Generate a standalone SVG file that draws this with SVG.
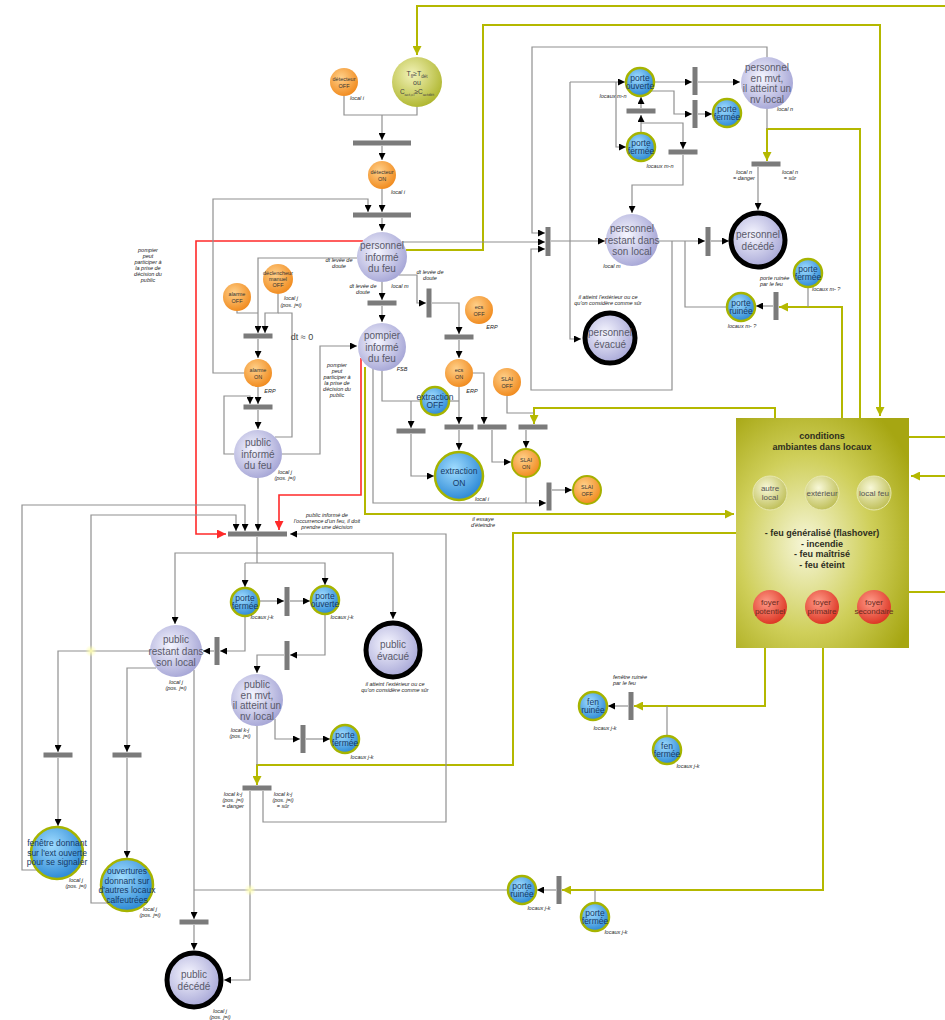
<svg xmlns="http://www.w3.org/2000/svg" width="945" height="1020" viewBox="0 0 945 1020">
<style>
text{font-family:"Liberation Sans",Arial,sans-serif}
.w{fill:none;stroke:#909090;stroke-width:1.2}
.wa{fill:none;stroke:#909090;stroke-width:1.2;marker-end:url(#ab)}
.y{fill:none;stroke:#b4b800;stroke-width:2}
.ya{fill:none;stroke:#b4b800;stroke-width:2;marker-end:url(#ay)}
.r{fill:none;stroke:#ff2a2a;stroke-width:1.6;marker-end:url(#ar)}
.bar{fill:#7b7b7b}
.or{fill:url(#gOr)}
.ory{fill:url(#gOr);stroke:#a6b000;stroke-width:2}
.lv{fill:url(#gLv)}
.dd{fill:url(#gLv);stroke:#000;stroke-width:5}
.bl{fill:url(#gBl);stroke:#a6b400;stroke-width:2.5}
.tl{font-size:10px;fill:#5a5a6a;text-anchor:middle}
.tb{font-size:8.5px;fill:#173a66;text-anchor:middle}
.to{font-size:5.5px;fill:#333;text-anchor:middle}
.it{font-size:5.5px;font-style:italic;fill:#222}
.c{text-anchor:middle}
.tc{font-size:9px;font-weight:bold;fill:#2e2e1e;text-anchor:middle}
.ts{font-size:8px;fill:#555;text-anchor:middle}
.tr{font-size:8px;fill:#6a2a20;text-anchor:middle}
</style>
<defs>
<marker id="ab" viewBox="0 0 10 10" refX="10" refY="5" markerWidth="7" markerHeight="7" markerUnits="userSpaceOnUse" orient="auto"><path d="M0,0 L10,5 L0,10 z" fill="#000"/></marker>
<marker id="ay" viewBox="0 0 10 10" refX="10" refY="5" markerWidth="9" markerHeight="9" markerUnits="userSpaceOnUse" orient="auto"><path d="M0,0 L10,5 L0,10 z" fill="#b4b800"/></marker>
<marker id="ar" viewBox="0 0 10 10" refX="10" refY="5" markerWidth="9" markerHeight="9" markerUnits="userSpaceOnUse" orient="auto"><path d="M0,0 L10,5 L0,10 z" fill="#ff2a2a"/></marker>
<radialGradient id="gOr" cx="0.4" cy="0.35" r="0.7"><stop offset="0" stop-color="#ffd08a"/><stop offset="1" stop-color="#f0881a"/></radialGradient>
<radialGradient id="gLv" cx="0.4" cy="0.4" r="0.7"><stop offset="0" stop-color="#f6f6ff"/><stop offset="1" stop-color="#9e9ed2"/></radialGradient>
<radialGradient id="gBl" cx="0.4" cy="0.35" r="0.75"><stop offset="0" stop-color="#a0dcff"/><stop offset="1" stop-color="#1d7ed0"/></radialGradient>
<radialGradient id="gGr" cx="0.4" cy="0.35" r="0.75"><stop offset="0" stop-color="#f2f2b8"/><stop offset="1" stop-color="#a8b020"/></radialGradient>
<radialGradient id="gBox" cx="0.4" cy="0.55" r="0.7"><stop offset="0" stop-color="#f6f6d8"/><stop offset="0.55" stop-color="#cfcf5a"/><stop offset="1" stop-color="#a6a612"/></radialGradient>
<radialGradient id="gSm" cx="0.4" cy="0.35" r="0.75"><stop offset="0" stop-color="#f8f8d8"/><stop offset="1" stop-color="#b8b848"/></radialGradient>
<radialGradient id="gRd" cx="0.4" cy="0.35" r="0.75"><stop offset="0" stop-color="#ff9a88"/><stop offset="1" stop-color="#d82a18"/></radialGradient>
<radialGradient id="gGlow" cx="0.5" cy="0.5" r="0.5"><stop offset="0" stop-color="#ffffb0"/><stop offset="1" stop-color="#ffffb0" stop-opacity="0"/></radialGradient>
</defs>
<rect width="945" height="1020" fill="#fff"/>

<g id="connectors">
<path class="ya" d="M945,6 H417 V55"/>
<path class="ya" d="M406,250 H483 V25 H880 V416"/>
<path class="ya" d="M860,418 V129 H767 V161"/>
<path class="ya" d="M842,418 V307 H779"/>
<path class="ya" d="M775,418 V408 H534 V424"/>
<path class="ya" d="M365,367 V514 H734"/>
<path class="ya" d="M736,533 H513 V765 H257 V785"/>
<path class="y" d="M909,437 H945"/>
<path class="ya" d="M945,476 H911"/>
<path class="y" d="M909,592 H945"/>
<path class="ya" d="M765,648 V706 H634"/>
<path class="ya" d="M823,648 V890 H562"/>
<path class="r" d="M363,241 H196 V534 H226"/>
<path class="r" d="M361,358 V495 H279 V530"/>
<path class="w" d="M344,96 V115 H417 V107"/>
<path class="wa" d="M382,115 V140"/>
<path class="wa" d="M382,146 V160"/>
<path class="wa" d="M382,189 V212"/>
<path class="wa" d="M244,373 H213 V199 H368 V212"/>
<path class="wa" d="M382,218 V231"/>
<path class="wa" d="M382,282 V300"/>
<path class="wa" d="M382,306 V322"/>
<path class="wa" d="M399,275 H417 V303 H426"/>
<path class="wa" d="M432,303 H459 V334"/>
<path class="wa" d="M459,340 V358"/>
<path class="wa" d="M459,387 V424"/>
<path class="wa" d="M459,430 V450"/>
<path class="w" d="M382,371 V401 H421"/>
<path class="w" d="M449,401 H459"/>
<path class="wa" d="M411,401 V428"/>
<path class="wa" d="M411,434 V476 H434"/>
<path class="wa" d="M473,373 H484 V424"/>
<path class="wa" d="M492,430 V462 H511"/>
<path class="w" d="M507,396 V413 H534"/>
<path class="wa" d="M526,430 V448"/>
<path class="w" d="M526,477 V503"/>
<path class="wa" d="M373,369 V503 H546"/>
<path class="wa" d="M552,490 H572"/>
<path class="wa" d="M357,258 H258 V333"/>
<path class="w" d="M237,311 V313 H258"/>
<path class="wa" d="M278,294 V313 H265 V333"/>
<path class="w" d="M278,313 H292 V437 H275"/>
<path class="wa" d="M258,339 V358"/>
<path class="wa" d="M258,387 V404"/>
<path class="wa" d="M234,454 H224 V396 H250 V404"/>
<path class="wa" d="M258,410 V429"/>
<path class="wa" d="M282,454 H320 V346 H357"/>
<path class="wa" d="M258,478 V531"/>
<path class="wa" d="M108,903 H91 V515 H236 V531"/>
<path class="wa" d="M37,870 H22 V505 H245 V531"/>
<path class="wa" d="M263,791 V822 H446 V534 H290"/>
<path class="w" d="M257,537 V563"/>
<path class="wa" d="M257,553 H393 V619"/>
<path class="wa" d="M257,553 H175 V624"/>
<path class="wa" d="M245,563 H325 V585"/>
<path class="wa" d="M245,563 V587"/>
<path class="wa" d="M259,601 H284"/>
<path class="wa" d="M290,601 H310"/>
<path class="wa" d="M325,614 V655 H290"/>
<path class="wa" d="M284,655 H257 V673"/>
<path class="wa" d="M245,616 V651 H220"/>
<path class="wa" d="M214,651 H203"/>
<path class="wa" d="M150,651 H58 V752"/>
<path class="wa" d="M58,758 V826"/>
<path class="wa" d="M156,668 H127 V752"/>
<path class="wa" d="M127,758 V858"/>
<path class="wa" d="M194,670 V919"/>
<path class="w" d="M508,890 H194"/>
<path class="wa" d="M194,925 V950"/>
<path class="wa" d="M250,791 V980 H224"/>
<path class="wa" d="M275,719 V739 H300"/>
<path class="wa" d="M306,739 H330"/>
<path class="w" d="M257,726 V765"/>
<path class="wa" d="M628,706 H608"/>
<path class="w" d="M667,736 V706"/>
<path class="wa" d="M556,890 H537"/>
<path class="w" d="M595,903 V890"/>
<path class="wa" d="M654,82 H692"/>
<path class="wa" d="M698,82 H740"/>
<path class="wa" d="M651,91 H674 V114 H692"/>
<path class="wa" d="M698,114 H712"/>
<path class="wa" d="M570,82 H625"/>
<path class="wa" d="M616,82 V147 H626"/>
<path class="wa" d="M570,82 V339 H581"/>
<path class="wa" d="M641,108 V97"/>
<path class="wa" d="M641,133 V115"/>
<path class="wa" d="M641,123 H683 V149"/>
<path class="wa" d="M683,155 V185 H632 V213"/>
<path class="wa" d="M767,57 V47 H532 V233 H545"/>
<path class="wa" d="M402,242 H545"/>
<path class="wa" d="M672,241 V390 H531 V249 H545"/>
<path class="wa" d="M551,241 H605"/>
<path class="wa" d="M658,241 H705"/>
<path class="wa" d="M711,241 H729"/>
<path class="w" d="M685,241 V307 H727"/>
<path class="w" d="M767,109 V129"/>
<path class="wa" d="M758,167 V210"/>
<path class="wa" d="M773,306 H756"/>
<path class="w" d="M808,287 V307"/>
<circle cx="91" cy="651" r="6" fill="url(#gGlow)"/>
<circle cx="250" cy="890" r="6" fill="url(#gGlow)"/>
</g>

<g id="transitions">
<rect class="bar" x="353" y="140.5" width="58" height="5"/>
<rect class="bar" x="353" y="212.5" width="58" height="5"/>
<rect class="bar" x="243.5" y="333.5" width="29" height="5"/>
<rect class="bar" x="243.5" y="404.5" width="29" height="5"/>
<rect class="bar" x="367.5" y="300.5" width="29" height="5"/>
<rect class="bar" x="444.5" y="334.5" width="29" height="5"/>
<rect class="bar" x="396.5" y="428.5" width="29" height="5"/>
<rect class="bar" x="444.5" y="424.5" width="29" height="5"/>
<rect class="bar" x="477.5" y="424.5" width="29" height="5"/>
<rect class="bar" x="518.5" y="424.5" width="29" height="5"/>
<rect class="bar" x="228" y="531.5" width="59" height="5"/>
<rect class="bar" x="43.5" y="752.5" width="29" height="5"/>
<rect class="bar" x="112.5" y="752.5" width="29" height="5"/>
<rect class="bar" x="242.5" y="785.5" width="29" height="5"/>
<rect class="bar" x="179.5" y="919.5" width="29" height="5"/>
<rect class="bar" x="626.5" y="108.5" width="29" height="5"/>
<rect class="bar" x="668.5" y="149.5" width="29" height="5"/>
<rect class="bar" x="751.5" y="161.5" width="29" height="5"/>
<rect class="bar" x="426.5" y="288.5" width="5" height="29"/>
<rect class="bar" x="546.5" y="482.5" width="5" height="28"/>
<rect class="bar" x="284.5" y="587" width="5" height="29"/>
<rect class="bar" x="284.5" y="641" width="5" height="29"/>
<rect class="bar" x="214.5" y="637" width="5" height="28"/>
<rect class="bar" x="300.5" y="725" width="5" height="28"/>
<rect class="bar" x="628.5" y="692" width="5" height="28"/>
<rect class="bar" x="556.5" y="876" width="5" height="28"/>
<rect class="bar" x="692.5" y="67" width="5" height="28"/>
<rect class="bar" x="692.5" y="100" width="5" height="28"/>
<rect class="bar" x="545.5" y="227" width="5" height="29"/>
<rect class="bar" x="705.5" y="227" width="5" height="29"/>
<rect class="bar" x="773.5" y="292" width="5" height="28"/>
</g>

<g id="n-det-off"><circle class="or" cx="344" cy="82" r="14"/><text class="to" x="344" y="81">détecteur</text><text class="to" x="344" y="87.5">OFF</text></g>
<g id="n-seuil"><circle cx="417" cy="82" r="25" fill="url(#gGr)"/>
<text x="417" y="76" font-size="7" fill="#444" class="c">T<tspan font-size="4.5" dy="1.5">fl</tspan><tspan dy="-1.5">≥T</tspan><tspan font-size="4.5" dy="1.5">dét</tspan></text>
<text x="417" y="85" font-size="7" fill="#444" class="c">ou</text>
<text x="417" y="94" font-size="6.5" fill="#444" class="c">C<tspan font-size="4.2" dy="1.5">act,cl</tspan><tspan dy="-1.5">≥C</tspan><tspan font-size="4.2" dy="1.5">actdét</tspan></text></g>
<g id="n-det-on"><circle class="or" cx="382" cy="175" r="14"/><text class="to" x="382" y="174">détecteur</text><text class="to" x="382" y="180.5">ON</text></g>
<g id="n-pers-inf"><circle class="lv" cx="382" cy="257" r="25"/><text class="tl" x="382" y="249">personnel</text><text class="tl" x="382" y="260.5">informé</text><text class="tl" x="382" y="272">du feu</text></g>
<g id="n-alarme-off"><circle class="or" cx="237" cy="297" r="14"/><text class="to" x="237" y="296">alarme</text><text class="to" x="237" y="302.5">OFF</text></g>
<g id="n-decl"><circle class="or" cx="278" cy="279" r="15"/><text class="to" x="278" y="275">déclencheur</text><text class="to" x="278" y="281">manuel</text><text class="to" x="278" y="287">OFF</text></g>
<g id="n-alarme-on"><circle class="or" cx="258" cy="373" r="14"/><text class="to" x="258" y="372">alarme</text><text class="to" x="258" y="378.5">ON</text></g>
<g id="n-pub-inf"><circle class="lv" cx="258" cy="454" r="24"/><text class="tl" x="258" y="446">public</text><text class="tl" x="258" y="457.5">informé</text><text class="tl" x="258" y="469">du feu</text></g>
<g id="n-pomp-inf"><circle class="lv" cx="382" cy="347" r="24"/><text class="tl" x="382" y="339">pompier</text><text class="tl" x="382" y="350.5">informé</text><text class="tl" x="382" y="362">du feu</text></g>
<g id="n-ecs-off"><circle class="or" cx="479" cy="310" r="14"/><text class="to" x="479" y="309">ecs</text><text class="to" x="479" y="315.5">OFF</text></g>
<g id="n-ecs-on"><circle class="or" cx="459" cy="373" r="14"/><text class="to" x="459" y="372">ecs</text><text class="to" x="459" y="378.5">ON</text></g>
<g id="n-slai-off"><circle class="or" cx="507" cy="382" r="14"/><text class="to" x="507" y="381">SLAI</text><text class="to" x="507" y="387.5">OFF</text></g>
<g id="n-extr-off"><circle class="bl" cx="435" cy="401" r="14"/><text class="tb" x="435" y="399.5" font-size="8">extraction</text><text class="tb" x="435" y="408">OFF</text></g>
<g id="n-extr-on"><circle class="bl" cx="459" cy="476" r="24" stroke-width="3"/><text class="tb" x="459" y="474" font-size="10">extraction</text><text class="tb" x="459" y="485.5" font-size="10">ON</text></g>
<g id="n-slai-on"><circle class="ory" cx="526" cy="463" r="14"/><text class="to" x="526" y="462">SLAI</text><text class="to" x="526" y="468.5">ON</text></g>
<g id="n-slai-off2"><circle class="ory" cx="587" cy="490" r="14"/><text class="to" x="587" y="489">SLAI</text><text class="to" x="587" y="495.5">OFF</text></g>

<g id="n-porte-ouv-m"><circle class="bl" cx="640" cy="82" r="14"/><text class="tb" x="640" y="80.5">porte</text><text class="tb" x="640" y="89">ouverte</text></g>
<g id="n-pers-mvt"><circle class="lv" cx="767" cy="83" r="26"/><text class="tl" x="767" y="71" font-size="9.5">personnel</text><text class="tl" x="767" y="81.5" font-size="9.5">en mvt,</text><text class="tl" x="767" y="92" font-size="9.5">il atteint un</text><text class="tl" x="767" y="102.5" font-size="9.5">nv local</text></g>
<g id="n-porte-fer-m2"><circle class="bl" cx="727" cy="113" r="14"/><text class="tb" x="727" y="111.5">porte</text><text class="tb" x="727" y="120">fermée</text></g>
<g id="n-porte-fer-m"><circle class="bl" cx="641" cy="147" r="14"/><text class="tb" x="641" y="145.5">porte</text><text class="tb" x="641" y="154">fermée</text></g>
<g id="n-pers-rest"><circle class="lv" cx="632" cy="240" r="26"/><text class="tl" x="632" y="232">personnel</text><text class="tl" x="632" y="243.5">restant dans</text><text class="tl" x="632" y="255">son local</text></g>
<g id="n-pers-dec"><circle class="dd" cx="758" cy="240" r="27"/><text class="tl" x="758" y="238">personnel</text><text class="tl" x="758" y="249.5">décédé</text></g>
<g id="n-pers-evac"><circle class="dd" cx="610" cy="338" r="25"/><text class="tl" x="610" y="336">personnel</text><text class="tl" x="610" y="347.5">évacué</text></g>
<g id="n-porte-fer-m3"><circle class="bl" cx="808" cy="273" r="14"/><text class="tb" x="808" y="271.5">porte</text><text class="tb" x="808" y="280">fermée</text></g>
<g id="n-porte-ruin-m"><circle class="bl" cx="741" cy="307" r="14"/><text class="tb" x="741" y="305.5">porte</text><text class="tb" x="741" y="314">ruinée</text></g>

<g id="n-conditions">
<rect x="736" y="418" width="173" height="230" fill="url(#gBox)"/>
<text class="tc" x="822" y="439">conditions</text>
<text class="tc" x="822" y="450">ambiantes dans locaux</text>
<circle cx="770" cy="493" r="17" fill="url(#gSm)" stroke="#e8e8b0" stroke-width="1"/><text class="ts" x="770" y="491">autre</text><text class="ts" x="770" y="500">local</text>
<circle cx="822" cy="493" r="17" fill="url(#gSm)" stroke="#e8e8b0" stroke-width="1"/><text class="ts" x="822" y="496">extérieur</text>
<circle cx="874" cy="493" r="17" fill="url(#gSm)" stroke="#e8e8b0" stroke-width="1"/><text class="ts" x="874" y="496">local feu</text>
<text class="tc" x="822" y="536">- feu généralisé (flashover)</text>
<text class="tc" x="822" y="546.5">- incendie</text>
<text class="tc" x="822" y="557">- feu maîtrisé</text>
<text class="tc" x="822" y="567.5">- feu éteint</text>
<circle cx="770" cy="607" r="17" fill="url(#gRd)"/><text class="tr" x="770" y="605">foyer</text><text class="tr" x="770" y="614">potentiel</text>
<circle cx="822" cy="607" r="17" fill="url(#gRd)"/><text class="tr" x="822" y="605">foyer</text><text class="tr" x="822" y="614">primaire</text>
<circle cx="874" cy="607" r="17" fill="url(#gRd)"/><text class="tr" x="874" y="605">foyer</text><text class="tr" x="874" y="614">secondaire</text>
</g>

<g id="n-porte-fer-j"><circle class="bl" cx="245" cy="602" r="14"/><text class="tb" x="245" y="600.5">porte</text><text class="tb" x="245" y="609">fermée</text></g>
<g id="n-porte-ouv-j"><circle class="bl" cx="325" cy="600" r="14"/><text class="tb" x="325" y="598.5">porte</text><text class="tb" x="325" y="607">ouverte</text></g>
<g id="n-pub-evac"><circle class="dd" cx="393" cy="650" r="27"/><text class="tl" x="393" y="648">public</text><text class="tl" x="393" y="659.5">évacué</text></g>
<g id="n-pub-rest"><circle class="lv" cx="176" cy="651" r="26"/><text class="tl" x="176" y="643">public</text><text class="tl" x="176" y="654.5">restant dans</text><text class="tl" x="176" y="666">son local</text></g>
<g id="n-pub-mvt"><circle class="lv" cx="257" cy="700" r="26"/><text class="tl" x="257" y="688" font-size="9.5">public</text><text class="tl" x="257" y="698.5" font-size="9.5">en mvt,</text><text class="tl" x="257" y="709" font-size="9.5">il atteint un</text><text class="tl" x="257" y="719.5" font-size="9.5">nv local</text></g>
<g id="n-porte-fer-j2"><circle class="bl" cx="345" cy="739" r="14"/><text class="tb" x="345" y="737.5">porte</text><text class="tb" x="345" y="746">fermée</text></g>
<g id="n-fenetre"><circle class="bl" cx="57" cy="853" r="26"/><text class="tb" x="57" y="846">fenêtre donnant</text><text class="tb" x="57" y="855.5">sur l'ext ouverte</text><text class="tb" x="57" y="865">pour se signaler</text></g>
<g id="n-ouvertures"><circle class="bl" cx="127" cy="885" r="26"/><text class="tb" x="127" y="874">ouvertures</text><text class="tb" x="127" y="883.5">donnant sur</text><text class="tb" x="127" y="893">d'autres locaux</text><text class="tb" x="127" y="902.5">calfeutrées</text></g>
<g id="n-pub-dec"><circle class="dd" cx="194" cy="980" r="27"/><text class="tl" x="194" y="978">public</text><text class="tl" x="194" y="989.5">décédé</text></g>
<g id="n-fen-ruin"><circle class="bl" cx="593" cy="706" r="14"/><text class="tb" x="593" y="704.5">fen</text><text class="tb" x="593" y="713">ruinée</text></g>
<g id="n-fen-fer"><circle class="bl" cx="667" cy="750" r="14"/><text class="tb" x="667" y="748.5">fen</text><text class="tb" x="667" y="757">fermée</text></g>
<g id="n-porte-ruin-j"><circle class="bl" cx="522" cy="890" r="14"/><text class="tb" x="522" y="888.5">porte</text><text class="tb" x="522" y="897">ruinée</text></g>
<g id="n-porte-fer-j3"><circle class="bl" cx="595" cy="917" r="14"/><text class="tb" x="595" y="915.5">porte</text><text class="tb" x="595" y="924">fermée</text></g>

<g id="labels">
<text class="it c" x="357" y="100">local i</text>
<text class="it c" x="398" y="194">local i</text>
<text class="it c" x="148" y="252">pompier</text><text class="it c" x="148" y="258">peut</text><text class="it c" x="148" y="264">participer à</text><text class="it c" x="148" y="270">la prise de</text><text class="it c" x="148" y="276">décision du</text><text class="it c" x="148" y="282">public</text>
<text class="it c" x="339" y="262">dt levée de</text><text class="it c" x="339" y="268">doute</text>
<text class="it c" x="363" y="288">dt levée de</text><text class="it c" x="363" y="294">doute</text>
<text class="it c" x="430" y="274">dt levée de</text><text class="it c" x="430" y="280">doute</text>
<text class="it c" x="400" y="288">local m</text>
<text class="it c" x="291" y="300">local j</text><text class="it c" x="291" y="307">(pos. j=i)</text>
<text x="302" y="340" font-size="9" fill="#444" class="c">dt ≈ 0</text>
<text class="it c" x="270" y="393">ERP</text>
<text class="it c" x="337" y="367">pompier</text><text class="it c" x="337" y="373">peut</text><text class="it c" x="337" y="379">participer à</text><text class="it c" x="337" y="385">la prise de</text><text class="it c" x="337" y="391">décision du</text><text class="it c" x="337" y="397">public</text>
<text class="it c" x="285" y="474">local j</text><text class="it c" x="285" y="480">(pos. j=i)</text>
<text class="it c" x="402" y="371">FSB</text>
<text class="it c" x="492" y="329">ERP</text>
<text class="it c" x="472" y="393">ERP</text>
<text class="it c" x="482" y="501">local i</text>
<text class="it c" x="483" y="521">il essaye</text><text class="it c" x="483" y="527">d'éteindre</text>
<text class="it c" x="327" y="517">public informé de</text><text class="it c" x="327" y="523">l'occurrence d'un feu, il doit</text><text class="it c" x="327" y="529">prendre une décision</text>
<text class="it c" x="262" y="619">locaux j-k</text>
<text class="it c" x="342" y="619">locaux j-k</text>
<text class="it c" x="362" y="759">locaux j-k</text>
<text class="it c" x="395" y="686">il atteint l'extérieur ou ce</text><text class="it c" x="395" y="692">qu'on considère comme sûr</text>
<text class="it c" x="176" y="684">local j</text><text class="it c" x="176" y="690">(pos. j=i)</text>
<text class="it c" x="240" y="732">local k-j</text><text class="it c" x="240" y="738">(pos. j=i)</text>
<text class="it c" x="233" y="796">local k-j</text><text class="it c" x="233" y="802">(pos. j=i)</text><text class="it c" x="233" y="808">= danger</text>
<text class="it c" x="283" y="796">local k-j</text><text class="it c" x="283" y="802">(pos. j=i)</text><text class="it c" x="283" y="808">= sûr</text>
<text class="it c" x="76" y="882">local j</text><text class="it c" x="76" y="888">(pos. j=i)</text>
<text class="it c" x="150" y="911">local j</text><text class="it c" x="150" y="917">(pos. j=i)</text>
<text class="it c" x="220" y="1013">local j</text><text class="it c" x="220" y="1019">(pos. j=i)</text>
<text class="it" x="613" y="679">fenêtre ruinée</text><text class="it" x="613" y="685">par le feu</text>
<text class="it c" x="605" y="730">locaux j-k</text>
<text class="it c" x="688" y="768">locaux j-k</text>
<text class="it c" x="539" y="910">locaux j-k</text>
<text class="it c" x="616" y="934">locaux j-k</text>
<text class="it c" x="613" y="98">locaux m-n</text>
<text class="it c" x="660" y="168">locaux m-n</text>
<text class="it c" x="785" y="111">local n</text>
<text class="it c" x="744" y="174">local n</text><text class="it c" x="744" y="180">= danger</text>
<text class="it c" x="790" y="174">local n</text><text class="it c" x="790" y="180">= sûr</text>
<text class="it c" x="612" y="268">local m</text>
<text class="it c" x="608" y="299">il atteint l'extérieur ou ce</text><text class="it c" x="608" y="305">qu'on considère comme sûr</text>
<text class="it" x="760" y="280">porte ruinée</text><text class="it" x="760" y="286">par le feu</text>
<text class="it" x="812" y="291">locaux m- ?</text>
<text class="it c" x="742" y="328">locaux m- ?</text>
</g>
</svg>
